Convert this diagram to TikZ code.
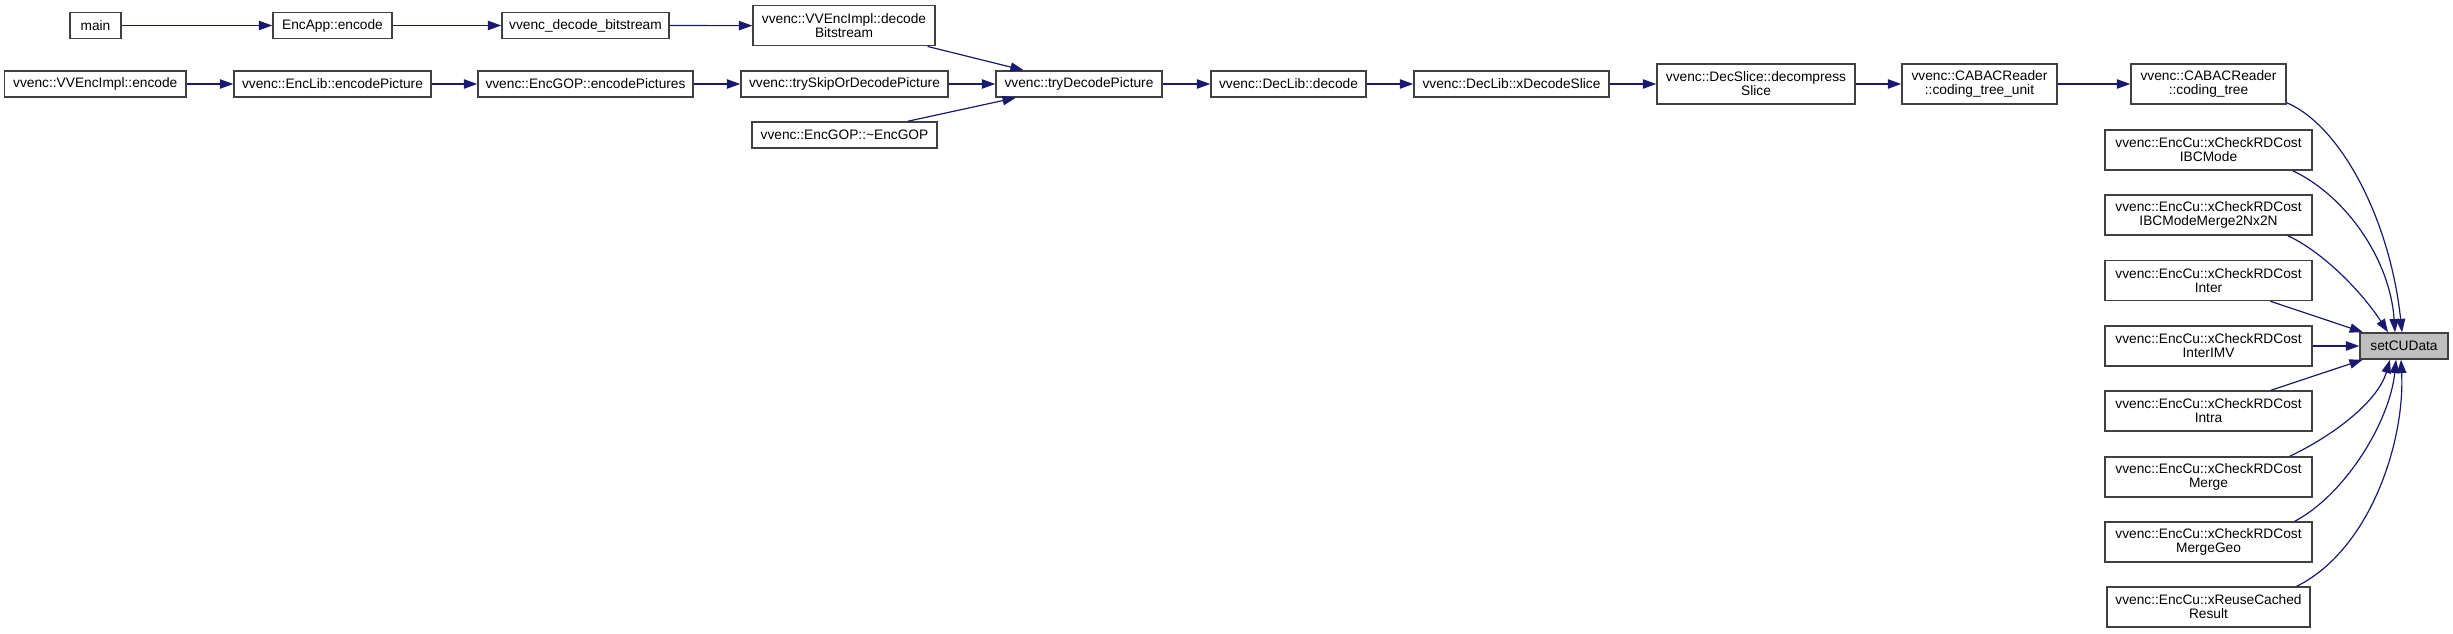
\documentclass[tikz,border=0pt]{standalone}
\usepackage{fontspec}
\setmainfont{Liberation Sans}
\usetikzlibrary{arrows.meta,calc}
\definecolor{edgeblue}{RGB}{25,25,112}
\definecolor{boxline}{RGB}{64,64,64}
\definecolor{rootfill}{RGB}{191,191,191}
\begin{document}
\begin{tikzpicture}[x=0.75pt,y=-0.75pt,
  box/.style={draw=boxline, line width=1.1pt, fill=white, rectangle, align=center,
    inner sep=0pt, minimum height=19.5pt, font=\fontsize{10.3pt}{10.5pt}\selectfont},
  tall/.style={minimum height=30pt},
  root/.style={fill=rootfill},
  edge/.style={draw=edgeblue, line width=0.9pt, -{Triangle[length=10pt,width=7pt]}}
]
\useasboundingbox (0,0) rectangle (2453,633);

% row 1
\node[box,minimum width=38.25pt] (main) at (95.5,25.5) {main};
\node[box,minimum width=89.25pt] (encapp) at (332.5,25.5) {EncApp::encode};
\node[box,minimum width=125.25pt] (vdb) at (585.5,25.5) {vvenc\_decode\_bitstream};
\node[box,tall,minimum width=136.5pt] (dbs) at (844,25.7) {vvenc::VVEncImpl::decode\\Bitstream};
% row 2
\node[box,minimum width=136pt] (venc) at (95.3,84) {vvenc::VVEncImpl::encode};
\node[box,minimum width=147.75pt] (elib) at (332.5,84) {vvenc::EncLib::encodePicture};
\node[box,minimum width=161.25pt] (egop) at (585.5,84) {vvenc::EncGOP::encodePictures};
\node[box,minimum width=155.25pt] (tsk) at (844.5,84) {vvenc::trySkipOrDecodePicture};
\node[box,minimum width=138.75pt] (dgop) at (844.5,135) {vvenc::EncGOP::\textasciitilde EncGOP};
\node[box,minimum width=124.5pt] (tdp) at (1079,84) {vvenc::tryDecodePicture};
\node[box,minimum width=116.25pt] (dld) at (1288.5,84) {vvenc::DecLib::decode};
\node[box,minimum width=146.25pt] (xds) at (1511.5,84) {vvenc::DecLib::xDecodeSlice};
\node[box,tall,minimum width=148.5pt] (dcs) at (1756,84) {vvenc::DecSlice::decompress\\Slice};
\node[box,tall,minimum width=116.25pt] (ctu) at (1979.5,84) {vvenc::CABACReader\\::coding\_tree\_unit};
\node[box,tall,minimum width=116.25pt] (ct) at (2208.5,84) {vvenc::CABACReader\\::coding\_tree};
% right column
\node[box,tall,minimum width=155.25pt] (ibc) at (2208.5,150) {vvenc::EncCu::xCheckRDCost\\IBCMode};
\node[box,tall,minimum width=155.25pt] (m2n) at (2208.5,215) {vvenc::EncCu::xCheckRDCost\\IBCModeMerge2Nx2N};
\node[box,tall,minimum width=155.25pt] (inter) at (2208.5,280.5) {vvenc::EncCu::xCheckRDCost\\Inter};
\node[box,tall,minimum width=155.25pt] (imv) at (2208.5,346) {vvenc::EncCu::xCheckRDCost\\InterIMV};
\node[box,tall,minimum width=155.25pt] (intra) at (2208.5,411) {vvenc::EncCu::xCheckRDCost\\Intra};
\node[box,tall,minimum width=155.25pt] (merge) at (2208.5,477) {vvenc::EncCu::xCheckRDCost\\Merge};
\node[box,tall,minimum width=155.25pt] (geo) at (2208.5,542) {vvenc::EncCu::xCheckRDCost\\MergeGeo};
\node[box,tall,minimum width=152.25pt] (reuse) at (2208.5,607) {vvenc::EncCu::xReuseCached\\Result};
\node[box,root,minimum width=66pt] (cu) at (2404,346) {setCUData};

% straight edges
\draw[edge] (main) -- (encapp);
\draw[edge] (encapp) -- (vdb);
\draw[edge] (vdb) -- (dbs);
\draw[edge] (dbs) -- (tdp);
\draw[edge] (venc) -- (elib);
\draw[edge] (elib) -- (egop);
\draw[edge] (egop) -- (tsk);
\draw[edge] (tsk) -- (tdp);
\draw[edge] (dgop) -- (tdp);
\draw[edge] (tdp) -- (dld);
\draw[edge] (dld) -- (xds);
\draw[edge] (xds) -- (dcs);
\draw[edge] (dcs) -- (ctu);
\draw[edge] (ctu) -- (ct);
\draw[edge] (inter) -- (cu);
\draw[edge] (imv) -- (cu);
\draw[edge] (intra) -- (cu);

% curved edges into setCUData
\draw[edge] ($(ct.south east)+(0,-2)$) .. controls +(54,23) and +(-12,-113) .. ($(cu.north)+(-2,0)$);
\draw[edge] ($(ibc.south east)+(-20,0)$) .. controls +(53,25) and +(-5,-73) .. ($(cu.north)+(-9,0)$);
\draw[edge] ($(m2n.south east)+(-25,0)$) .. controls +(33,15) and +(-28,-43) .. ($(cu.north)+(-16,0)$);
\draw[edge] ($(merge.north east)+(-23,0)$) .. controls +(46,-22) and +(-12,41) .. ($(cu.south)+(-14,0)$);
\draw[edge] ($(geo.north east)+(-18,0)$) .. controls +(51,-27) and +(-6,61) .. ($(cu.south)+(-8,0)$);
\draw[edge] ($(reuse.north east)+(-14,0)$) .. controls +(74,-37) and +(4,81) .. ($(cu.south)+(-3,0)$);
\end{tikzpicture}
\end{document}
